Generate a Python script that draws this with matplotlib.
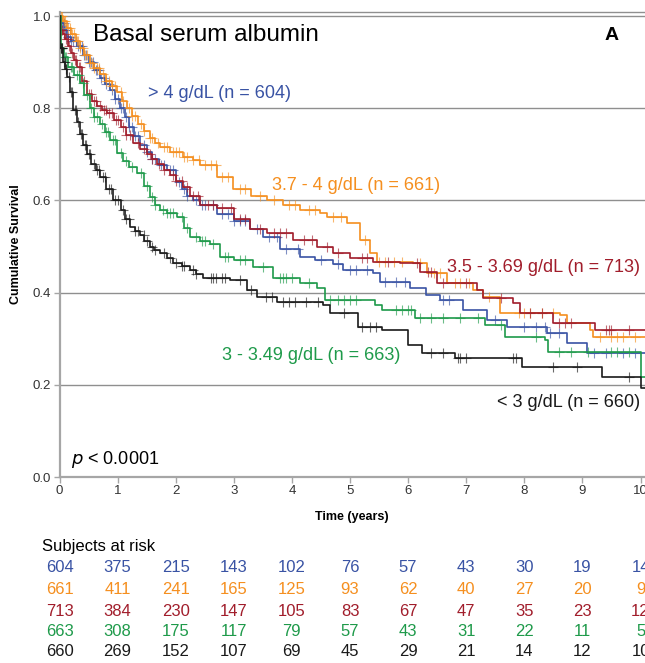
import numpy as np
import matplotlib
matplotlib.use("Agg")
import matplotlib.pyplot as plt
from matplotlib.transforms import blended_transform_factory

plt.rcParams['font.family'] = ['Liberation Sans', 'DejaVu Sans']

# Kaplan-Meier step points (time in years, survival)
blue_t = [0, 0.03, 0.08, 0.13, 0.2, 0.3, 0.41, 0.5, 0.6, 0.7, 0.78, 0.87, 0.95, 1.04, 1.12, 1.2,
          1.29, 1.38, 1.5, 1.6, 1.72, 1.85, 2.0, 2.1, 2.19, 2.3, 2.42,
          2.71, 3.0, 3.28, 3.5, 3.8, 4.14, 4.4, 4.71, 4.88, 5.4, 5.52, 6.03, 6.3, 6.55, 6.94,
          7.36, 7.7, 8.39, 8.73, 9.08, 10.08]
blue_s = [1.0, 0.985, 0.97, 0.955, 0.945, 0.935, 0.915, 0.9, 0.882, 0.865, 0.852, 0.84, 0.82,
          0.80, 0.78, 0.76, 0.74, 0.72, 0.705, 0.69, 0.677, 0.665, 0.64, 0.625, 0.61, 0.60, 0.59,
          0.57, 0.555, 0.538, 0.52, 0.495, 0.477, 0.47, 0.462, 0.449, 0.442, 0.423,
          0.41, 0.395, 0.384, 0.362, 0.34, 0.325, 0.312, 0.29, 0.269, 0.269]

orange_t = [0, 0.06, 0.13, 0.2, 0.28, 0.35, 0.43, 0.52, 0.6, 0.7, 0.8, 0.9, 0.99, 1.08, 1.16,
            1.25, 1.35, 1.45, 1.55, 1.65, 1.73, 1.9, 2.13, 2.3, 2.42, 2.71,
            2.99, 3.3, 3.57, 3.85, 4.14, 4.48, 4.6, 4.95, 5.17, 5.34, 5.46, 6.08, 6.32, 6.67,
            7.12, 7.29, 7.58, 8.62, 8.73, 9.13, 9.19, 10.08]
orange_s = [1.0, 0.99, 0.975, 0.96, 0.945, 0.93, 0.915, 0.898, 0.888, 0.875, 0.86, 0.848, 0.835,
            0.815, 0.80, 0.783, 0.765, 0.75, 0.735, 0.725, 0.716, 0.705, 0.694, 0.688, 0.677,
            0.65, 0.625, 0.61, 0.60, 0.59, 0.58, 0.572, 0.564, 0.551, 0.514, 0.486, 0.466,
            0.464, 0.442, 0.42, 0.405, 0.39, 0.356, 0.351, 0.334, 0.319, 0.304, 0.304]

red_t = [0, 0.02, 0.06, 0.1, 0.15, 0.2, 0.25, 0.3, 0.38, 0.47, 0.56, 0.65, 0.73, 0.82, 0.93,
         1.05, 1.15, 1.27, 1.38, 1.5, 1.6, 1.68, 1.8, 1.9, 2.0, 2.13, 2.25, 2.42, 2.71,
         3.0, 3.28, 3.57, 4.02, 4.43, 4.71, 5.0, 5.4, 5.86, 6.2, 6.5, 7.19, 7.29, 7.81, 7.93,
         8.5, 9.21, 10.08]
red_s = [1.0, 0.97, 0.96, 0.95, 0.935, 0.92, 0.905, 0.89, 0.86, 0.83, 0.815, 0.805, 0.797, 0.79,
         0.775, 0.76, 0.742, 0.724, 0.712, 0.70, 0.69, 0.68, 0.667, 0.655, 0.643, 0.63, 0.61,
         0.59, 0.583, 0.56, 0.538, 0.529, 0.514, 0.499, 0.486, 0.475, 0.466, 0.464, 0.445, 0.42,
         0.405, 0.388, 0.377, 0.356, 0.334, 0.319, 0.319]

green_t = [0, 0.02, 0.08, 0.15, 0.25, 0.35, 0.43, 0.52, 0.6, 0.7, 0.78, 0.87, 0.99, 1.1, 1.2,
           1.33, 1.45, 1.55, 1.65, 1.73, 1.85, 2.02, 2.15, 2.25, 2.42, 2.59,
           2.76, 3.0, 3.33, 3.68, 4.14, 4.43, 4.57, 5.43, 5.55, 6.12, 7.33, 7.67, 8.36, 8.41,
           10.0, 10.08]
green_s = [1.0, 0.93, 0.91, 0.89, 0.872, 0.855, 0.828, 0.80, 0.782, 0.765, 0.748, 0.73, 0.703,
           0.685, 0.672, 0.659, 0.632, 0.607, 0.59, 0.579, 0.572, 0.564, 0.54, 0.52, 0.512, 0.505,
           0.477, 0.47, 0.456, 0.432, 0.42, 0.41, 0.384, 0.373, 0.362, 0.345, 0.33,
           0.304, 0.297, 0.271, 0.217, 0.217]

black_t = [0, 0.01, 0.06, 0.1, 0.13, 0.18, 0.24, 0.3, 0.35, 0.41, 0.48, 0.55, 0.62, 0.7, 0.8,
           0.92, 1.05, 1.13, 1.22, 1.3, 1.38, 1.46, 1.55, 1.63, 1.73, 1.85, 1.96, 2.1, 2.25,
           2.35, 2.47, 2.93, 3.22, 3.4, 3.74, 4.54, 4.66, 5.14, 5.55, 6.0, 6.24, 6.8, 7.96, 9.34,
           10.0, 10.08]
black_s = [1.0, 0.93, 0.9, 0.885, 0.868, 0.835, 0.796, 0.77, 0.745, 0.72, 0.70, 0.68, 0.665,
           0.65, 0.625, 0.60, 0.58, 0.56, 0.542, 0.533, 0.525, 0.512, 0.499, 0.492, 0.485, 0.475,
           0.464, 0.457, 0.449, 0.44, 0.432, 0.427, 0.406, 0.39, 0.38, 0.373, 0.356, 0.325,
           0.319, 0.286, 0.269, 0.258, 0.239, 0.217, 0.193, 0.193]

# censoring marks (times)
blue_c = [0.04, 0.07, 0.1, 0.12, 0.15, 0.18, 0.2, 0.24, 0.28, 0.32, 0.35, 0.38, 0.42, 0.46, 0.5,
          0.54, 0.58, 0.62, 0.65, 0.68, 0.72, 0.76, 0.8, 0.85, 0.9, 0.95, 1.0, 1.05, 1.1, 1.15,
          1.2, 1.25, 1.3, 1.35, 1.45, 1.5, 1.6, 1.65, 1.75, 1.8, 1.9, 1.95, 2.05, 2.15, 2.2,
          2.35, 2.45, 2.5, 2.65, 2.8, 2.9, 3.0, 3.1, 3.2, 3.4, 3.6, 3.75, 3.9, 4.1, 4.5, 4.8,
          5.0, 5.1, 5.3, 5.6, 5.8, 5.95, 6.6, 6.7, 7.5, 8.0, 8.2, 8.35, 8.45, 8.6, 9.2, 9.4,
          9.7, 9.9]
orange_c = [0.03, 0.05, 0.08, 0.1, 0.14, 0.18, 0.22, 0.25, 0.3, 0.32, 0.36, 0.4, 0.44, 0.48,
            0.52, 0.56, 0.6, 0.64, 0.68, 0.75, 0.8, 0.85, 0.9, 0.95, 1.05, 1.1, 1.2, 1.25, 1.3,
            1.4, 1.45, 1.55, 1.6, 1.7, 1.8, 1.85, 1.95, 2.0, 2.05, 2.15, 2.2, 2.3, 2.4, 2.5,
            2.6, 2.7, 2.8, 2.9, 3.1, 3.2, 3.45, 3.7, 3.95, 4.05, 4.3, 4.4, 4.7, 4.85, 5.25,
            5.5, 5.6, 5.75, 5.9, 6.2, 6.45, 6.55, 6.8, 6.9, 7.05, 7.4, 7.9, 8.0, 8.1, 8.3, 8.5,
            9.3, 9.5, 9.6, 9.7, 9.9]
red_c = [0.03, 0.04, 0.08, 0.11, 0.14, 0.17, 0.22, 0.26, 0.28, 0.33, 0.36, 0.42, 0.5, 0.55, 0.6,
         0.63, 0.7, 0.76, 0.8, 0.86, 0.9, 0.97, 1.0, 1.1, 1.15, 1.22, 1.35, 1.45, 1.55, 1.6,
         1.72, 1.8, 1.95, 2.0, 2.1, 2.2, 2.3, 2.38, 2.55, 2.65, 2.8, 2.95, 3.1, 3.2, 3.45, 3.7,
         3.8, 3.9, 4.2, 4.35, 4.6, 4.8, 5.2, 5.3, 5.65, 6.15, 6.35, 6.4, 6.6, 7.0, 7.6, 8.1,
         8.3, 8.6, 8.7, 8.8, 9.4, 9.45, 9.5, 9.8]
green_c = [0.03, 0.05, 0.1, 0.12, 0.2, 0.22, 0.3, 0.33, 0.4, 0.47, 0.55, 0.6, 0.65, 0.74, 0.8,
           0.84, 0.92, 0.95, 1.05, 1.15, 1.25, 1.4, 1.5, 1.6, 1.65, 1.78, 1.85, 1.9, 1.95, 2.1,
           2.2, 2.35, 2.45, 2.5, 2.65, 2.85, 2.9, 3.1, 3.2, 3.5, 3.8, 3.85, 3.9, 4.0, 4.3, 4.65,
           4.8, 4.9, 5.0, 5.1, 5.8, 5.9, 6.0, 6.05, 6.2, 6.4, 6.6, 6.9, 7.2, 7.6, 8.2, 8.6,
           8.8, 9.1, 9.5, 9.6, 9.8]
black_c = [0.02, 0.03, 0.04, 0.05, 0.08, 0.09, 0.11, 0.12, 0.16, 0.2, 0.22, 0.27, 0.29, 0.32,
           0.37, 0.39, 0.44, 0.46, 0.5, 0.53, 0.6, 0.65, 0.68, 0.75, 0.78, 0.85, 0.88, 0.95, 1.0,
           1.1, 1.15, 1.2, 1.3, 1.35, 1.45, 1.5, 1.6, 1.65, 1.8, 1.9, 2.0, 2.1, 2.15, 2.3,
           2.35, 2.6, 2.65, 2.7, 2.8, 2.85, 3.1, 3.3, 3.55, 3.65, 3.85, 3.95, 4.05, 4.25, 4.45,
           4.9, 5.2, 5.35, 5.45, 6.4, 6.6, 6.85, 6.9, 7.0, 7.8, 7.85, 8.5, 8.9, 9.8]

labels = ["> 4 g/dL (n = 604)", "3.7 - 4 g/dL (n = 661)", "3.5 - 3.69 g/dL (n = 713)",
          "3 - 3.49 g/dL (n = 663)", "< 3 g/dL (n = 660)"]
colors = ["#3953a4", "#f58f1f", "#a11d2b", "#1e9a4a", "#1a1a1a"]

# subjects at risk table
risk_times = [0, 1, 2, 3, 4, 5, 6, 7, 8, 9, 10]
risk_blue = [604, 375, 215, 143, 102, 76, 57, 43, 30, 19, 14]
risk_orange = [661, 411, 241, 165, 125, 93, 62, 40, 27, 20, 9]
risk_red = [713, 384, 230, 147, 105, 83, 67, 47, 35, 23, 12]
risk_green = [663, 308, 175, 117, 79, 57, 43, 31, 22, 11, 5]
risk_black = [660, 269, 152, 107, 69, 45, 29, 21, 14, 12, 10]

W, H = 645, 663
fig = plt.figure(figsize=(W / 100, H / 100), dpi=100)
ax = fig.add_axes([59.5 / W, (H - 477) / H, (W - 59.5) / W, (477 - 12) / H])

curves = [(blue_t, blue_s, blue_c), (orange_t, orange_s, orange_c), (red_t, red_s, red_c),
          (green_t, green_s, green_c), (black_t, black_s, black_c)]

for (t, s, c), col in zip(curves, colors):
    t = np.array(t)
    s = np.array(s)
    ax.step(t, s, where='post', color=col, lw=1.2, zorder=3)
    c = np.array(c)
    cy = s[np.searchsorted(t, c, side='right') - 1]
    ax.plot(c, cy, ls='none', marker='+', ms=7, mew=0.8, color=col, alpha=0.65, zorder=3)

ax.set_xlim(0, 10.077)
ax.set_ylim(0, 1.0087)
ax.set_yticks([0, 0.2, 0.4, 0.6, 0.8, 1.0])
ax.set_yticklabels(["0.0", "0.2", "0.4", "0.6", "0.8", "1.0"])
ax.set_xticks(range(11))
for yv in [0.2, 0.4, 0.6, 0.8, 1.0]:
    ax.axhline(yv, color="#8f8f8f", lw=1.0, zorder=1)

for side in ['left', 'bottom']:
    ax.spines[side].set_color("#a6a6a6")
    ax.spines[side].set_linewidth(1.6)
ax.spines['top'].set_color("#8f8f8f")
ax.spines['top'].set_linewidth(1.0)
ax.spines['right'].set_visible(False)
ax.tick_params(axis='both', colors="#a6a6a6", labelcolor="#333333", labelsize=9.5,
               length=4, width=1.0, direction='out', pad=2)

ax.set_xlabel("Time (years)", fontsize=9, fontweight='bold', labelpad=10)
ax.set_ylabel("Cumulative Survival", fontsize=9, fontweight='bold', labelpad=8)

def fx(px):
    return px / W

def fy(py):
    return 1 - py / H

fig.text(fx(93), fy(35), "Basal serum albumin", fontsize=17.5, va='center', ha='left')
fig.text(fx(612), fy(35), "A", fontsize=14, fontweight='bold', va='center', ha='center')
fig.text(fx(148), fy(93), labels[0], color=colors[0], fontsize=13, va='center', ha='left')
fig.text(fx(272), fy(185), labels[1], color=colors[1], fontsize=13, va='center', ha='left')
fig.text(fx(640), fy(268), labels[2], color=colors[2], fontsize=13, va='center', ha='right')
fig.text(fx(222), fy(355), labels[3], color=colors[3], fontsize=13, va='center', ha='left')
fig.text(fx(640), fy(403), labels[4], color=colors[4], fontsize=13, va='center', ha='right')
fig.text(fx(71), fy(460), r"$\it{p}$ < 0.0001", fontsize=13, va='center', ha='left')

fig.text(fx(42), fy(547), "Subjects at risk", fontsize=12, va='center', ha='left')
trans = blended_transform_factory(ax.transData, fig.transFigure)
rows_y = [567, 589, 611, 632, 652]
for row, col, ry in zip([risk_blue, risk_orange, risk_red, risk_green, risk_black], colors, rows_y):
    for xt, n in zip(risk_times, row):
        fig.text(xt, fy(ry), str(n), color=col, fontsize=12, va='center', ha='center',
                 transform=trans)

fig.savefig("out.png", dpi=100)
